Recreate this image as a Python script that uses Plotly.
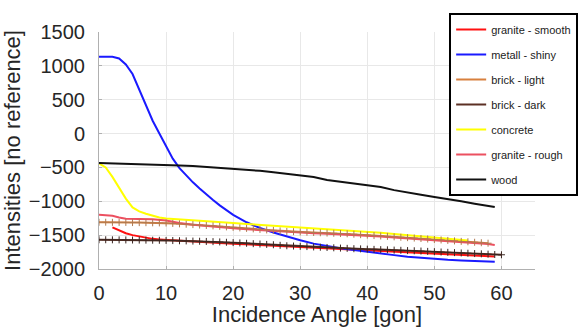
import plotly.graph_objects as go

# ---------------- data ----------------
metal_x = [0, 1, 2, 3, 4, 5, 6, 7, 8, 9, 10, 11, 12, 13, 14, 15, 16, 17, 18, 20, 22, 24, 26, 28, 30,
           32, 34, 36, 38, 40, 42, 44, 46, 48, 50, 52, 54, 56, 58, 59]
metal_y = [1135, 1135, 1133, 1110, 1020, 880, 650, 400, 190, 0, -190, -370, -510, -620, -720, -810,
           -900, -980, -1060, -1200, -1310, -1395, -1460, -1520, -1575, -1625, -1665, -1695, -1720,
           -1748, -1772, -1795, -1818, -1836, -1850, -1863, -1873, -1882, -1890, -1894]

wood_x = [0, 2, 4, 6, 8, 10, 12, 14, 16, 18, 20, 22, 24, 26, 28, 30, 32, 34, 36, 38, 40, 42, 44, 46,
          48, 50, 52, 54, 56, 58, 59]
wood_y = [-435, -440, -445, -448, -455, -465, -472, -480, -493, -515, -525, -535, -550, -570, -595,
          -610, -640, -685, -710, -735, -760, -790, -835, -875, -905, -936, -965, -1000, -1035,
          -1070, -1084]

concrete_x = [0, 1, 2, 3, 4, 5, 6, 7, 8, 9, 10, 12, 14, 16, 18, 20, 22, 24, 26, 28, 30, 32, 34, 36,
              38, 40, 42, 44, 46, 48, 50, 52, 54, 55]
concrete_y = [-440, -500, -640, -800, -960, -1090, -1150, -1185, -1215, -1240, -1255, -1270, -1282,
              -1294, -1308, -1322, -1334, -1346, -1358, -1371, -1383, -1395, -1407, -1420, -1432,
              -1446, -1464, -1482, -1500, -1518, -1536, -1554, -1572, -1580]

brick_light_x = list(range(0, 59))
brick_light_y = [-1310, -1309, -1311, -1312, -1312, -1314, -1315, -1316, -1318, -1319, -1321, -1327,
                 -1333, -1339, -1344, -1351, -1357, -1363, -1370, -1378, -1385, -1393, -1400, -1407,
                 -1415, -1423, -1430, -1438, -1445, -1449, -1453, -1457, -1461, -1465, -1469, -1472,
                 -1476, -1480, -1486, -1493, -1499, -1506, -1512, -1518, -1525, -1531, -1537, -1543,
                 -1550, -1557, -1564, -1571, -1578, -1585, -1592, -1598, -1605, -1612, -1619]

granite_rough_x = [0, 1, 2, 3, 4, 6, 8, 10, 12, 14, 16, 18, 20, 22, 24, 26, 28, 30, 32, 34, 36, 38,
                   40, 42, 44, 46, 48, 50, 52, 54, 56, 58, 59]
granite_rough_y = [-1200, -1205, -1215, -1240, -1258, -1262, -1266, -1285, -1322, -1345, -1365,
                   -1382, -1398, -1412, -1425, -1440, -1455, -1463, -1472, -1480, -1488, -1496,
                   -1508, -1520, -1533, -1546, -1560, -1573, -1587, -1600, -1615, -1632, -1645]

brick_dark_x = list(range(0, 61))
brick_dark_y = [-1568, -1568, -1569, -1570, -1571, -1572, -1573, -1574, -1575, -1576, -1578, -1580,
                -1583, -1585, -1588, -1590, -1593, -1596, -1600, -1605, -1610, -1615, -1620, -1626,
                -1631, -1637, -1642, -1650, -1657, -1661, -1665, -1669, -1674, -1678, -1682, -1687,
                -1691, -1695, -1700, -1703, -1707, -1710, -1714, -1717, -1721, -1724, -1728, -1731,
                -1735, -1740, -1744, -1749, -1754, -1758, -1763, -1767, -1772, -1776, -1781, -1786,
                -1790]

granite_smooth_x = [2, 3, 4, 5, 6, 7, 8, 9, 10, 12, 14, 16, 18, 20, 22, 24, 26, 28, 30, 32, 34, 36,
                    38, 40, 42, 44, 46, 48, 50, 52, 54, 56, 58, 59]
granite_smooth_y = [-1385, -1430, -1472, -1500, -1522, -1540, -1555, -1563, -1570, -1582, -1595,
                    -1606, -1617, -1627, -1637, -1647, -1657, -1667, -1677, -1686, -1696, -1705,
                    -1714, -1724, -1735, -1747, -1758, -1769, -1779, -1788, -1797, -1805, -1813,
                    -1817]

x_ticks = [0, 10, 20, 30, 40, 50, 60]
y_ticks = [-2000, -1500, -1000, -500, 0, 500, 1000, 1500]

# ---------------- figure ----------------
FONT = "Liberation Sans, Arial, sans-serif"
fig = go.Figure()

series = [
    ("granite - smooth", granite_smooth_x, granite_smooth_y, "#ff1010"),
    ("metall - shiny", metal_x, metal_y, "#1a1aff"),
    ("brick - light", brick_light_x, brick_light_y, "#d8803e"),
    ("brick - dark", brick_dark_x, brick_dark_y, "#5c3024"),
    ("concrete", concrete_x, concrete_y, "#ffff00"),
    ("granite - rough", granite_rough_x, granite_rough_y, "#ec5060"),
    ("wood", wood_x, wood_y, "#111111"),
]

for i, (name, xs, ys, col) in enumerate(series):
    fig.add_trace(go.Scatter(
        x=xs, y=ys, mode="lines", name=name, legendgroup=f"g{i}",
        line=dict(color=col, width=2),
    ))

# '+' markers on the brick series
fig.add_trace(go.Scatter(
    x=brick_light_x, y=brick_light_y, mode="markers", showlegend=False, hoverinfo="skip",
    marker=dict(symbol="cross-thin", size=5, line=dict(color="#b07a50", width=1)),
))
fig.add_trace(go.Scatter(
    x=brick_dark_x, y=brick_dark_y, mode="markers", showlegend=False, hoverinfo="skip",
    marker=dict(symbol="cross-thin", size=5, line=dict(color="#3a2520", width=1)),
))

axis_common = dict(
    showgrid=True, gridcolor="#e8e8e8", gridwidth=1,
    showline=True, linecolor="#b0b0b0", linewidth=1,
    ticks="inside", ticklen=3, tickcolor="#b0b0b0",
    zeroline=False, tickfont=dict(family=FONT, size=20, color="#262626"),
)

fig.update_layout(
    width=580, height=327,
    margin=dict(l=99, r=45, t=32, b=58, autoexpand=False),
    paper_bgcolor="white", plot_bgcolor="white",
    font=dict(family=FONT, color="#262626"),
    xaxis=dict(range=[0, 65], tickvals=x_ticks, ticklabelstandoff=6,
               title=dict(text="Incidence Angle [gon]", font=dict(family=FONT, size=22), standoff=2),
               **axis_common),
    yaxis=dict(range=[-2000, 1500], tickvals=y_ticks, ticklabelstandoff=9,
               title=dict(text="Intensities [no reference]", font=dict(family=FONT, size=22), standoff=4),
               **axis_common),
    legend=dict(
        x=1.099, y=1.08, xanchor="right", yanchor="top",
        bgcolor="white", bordercolor="black", borderwidth=2,
        font=dict(family=FONT, size=11, color="#222222"),
        tracegroupgap=6, maxheight=320,
    ),
    showlegend=True,
)

fig.write_html(
    "out.html",
    config={"displayModeBar": False},
    post_script="document.body.style.margin='0';document.body.style.overflow='hidden';",
)
